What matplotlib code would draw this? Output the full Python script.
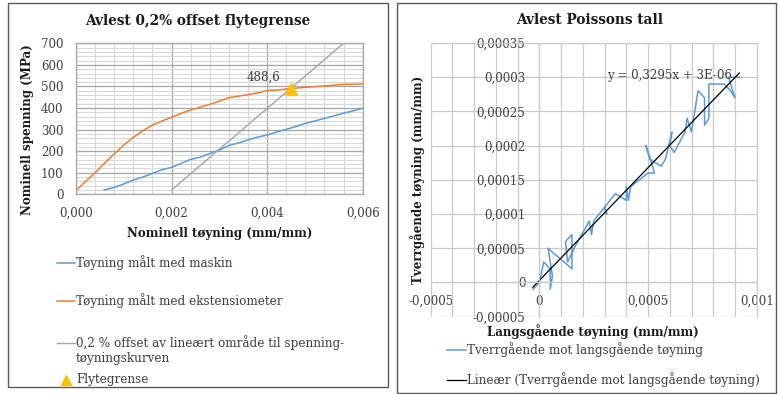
import matplotlib
matplotlib.use("Agg")
import matplotlib.pyplot as plt
from matplotlib.lines import Line2D
from matplotlib.patches import Rectangle
from matplotlib.ticker import MultipleLocator, FuncFormatter

# --- left chart data: stress-strain ---
ext_strain = [0.0, 0.0002, 0.0004, 0.0006, 0.0008, 0.0010, 0.0012, 0.0014, 0.0016, 0.0018,
              0.0020, 0.0022, 0.0024, 0.0026, 0.0028, 0.0030, 0.0032, 0.0034, 0.0036, 0.0038,
              0.0040, 0.0042, 0.0044, 0.0046, 0.0048, 0.0050, 0.0052, 0.0054, 0.0056, 0.0058, 0.0060]
ext_stress = [17, 60, 100, 145, 187, 228, 264, 295, 321, 340,
              357, 375, 391, 404, 417, 432, 448, 455, 462, 470,
              481, 483, 488, 492, 496, 499, 502, 506, 510, 510, 512]

mach_strain = [0.00059, 0.0008, 0.0010, 0.0012, 0.0014, 0.0016, 0.0018, 0.0020, 0.0022, 0.0024,
               0.0026, 0.0028, 0.0030, 0.0032, 0.0034, 0.0036, 0.0038, 0.0040, 0.0042, 0.0044,
               0.0046, 0.0048, 0.0050, 0.0052, 0.0054, 0.0056, 0.0058, 0.0060]
mach_stress = [20, 32, 48, 66, 80, 97, 114, 125, 143, 162,
               172, 189, 205, 226, 238, 252, 265, 275, 289, 301,
               314, 329, 340, 352, 364, 376, 387, 399]

offset_strain = [0.002, 0.0056]
offset_stress = [20, 700]

yield_strain = [0.0045]
yield_stress = [488.6]
yield_label = "488,6"

# --- right chart data: transverse vs longitudinal strain ---
long_strain = [-0.00003, 0.0, 0.00002, 0.00005, 0.00005, 0.00006, 0.00004, 0.00015, 0.00015,
               0.00012, 0.00013, 0.00016, 0.00023, 0.00024, 0.00025, 0.0003, 0.00031, 0.0003,
               0.00035, 0.0004, 0.0004, 0.00041, 0.00042, 0.0005, 0.00053, 0.00049, 0.00051,
               0.00056, 0.00058, 0.00061, 0.0006, 0.00062, 0.00067, 0.00068, 0.0007, 0.00073,
               0.00076, 0.00076, 0.00078, 0.00078, 0.00085, 0.00088, 0.0009, 0.00087, 0.00092]
trans_strain = [-0.00001, 0.0, 0.00003, 0.00002, -0.00001, 0.00001, 0.00005, 0.00002, 0.00007,
                0.00006, 0.00003, 0.00005, 0.00009, 0.00007, 0.00009, 0.00011, 0.0001, 0.00011,
                0.00013, 0.00012, 0.00014, 0.00012, 0.00014, 0.00016, 0.00016, 0.0002, 0.00018,
                0.00017, 0.00018, 0.00022, 0.0002, 0.00019, 0.00022, 0.00024, 0.00022, 0.00028,
                0.00027, 0.00023, 0.00024, 0.00029, 0.00029, 0.00028, 0.00027, 0.0003, 0.0003]
trend_slope = 0.3295
trend_intercept = 3e-6
trend_label = "y = 0,3295x + 3E-06"

plt.rcParams['font.family'] = ['DejaVu Serif']
TXT = '#404040'
GRID = '#CACACA'
LBL = 8.6   # axis title size
LEG = 8.65  # legend size

fig = plt.figure(figsize=(7.78, 3.94), dpi=100)

W, H = 778.0, 394.0
def fx(px): return px / W
def fy(py): return 1 - py / H

# panel frames
fig.add_artist(Rectangle((fx(8), fy(387)), fx(380), (387 - 3) / H, fill=False,
                         edgecolor='#595959', lw=1.0, transform=fig.transFigure))
fig.add_artist(Rectangle((fx(397), fy(393)), fx(379), (393 - 3) / H, fill=False,
                         edgecolor='#595959', lw=1.0, transform=fig.transFigure))

def comma(fmt):
    return FuncFormatter(lambda v, p: (fmt % v).replace('.', ','))

# ---------- left chart ----------
ax1 = fig.add_axes([fx(76), fy(194.3), fx(362.7 - 76), (194.3 - 43.3) / H])
ax1.plot(mach_strain, mach_stress, color='#5B9BD5', lw=1.1)
ax1.plot(ext_strain, ext_stress, color='#ED7D31', lw=1.1)
ax1.plot(offset_strain, offset_stress, color='#A5A5A5', lw=1.0)
ax1.plot(yield_strain, yield_stress, marker='^', color='#FFC000', ms=8, ls='none')
ax1.annotate(yield_label, (yield_strain[0], yield_stress[0]), xytext=(-8, 4),
             textcoords='offset points', ha='right', va='bottom', fontsize=8.6, color=TXT)
ax1.set_xlim(0, 0.006)
ax1.set_ylim(0, 700)
ax1.xaxis.set_major_locator(MultipleLocator(0.002))
ax1.xaxis.set_minor_locator(MultipleLocator(0.0004))
ax1.yaxis.set_major_locator(MultipleLocator(100))
ax1.yaxis.set_minor_locator(MultipleLocator(20))
ax1.xaxis.set_major_formatter(comma('%.3f'))
ax1.grid(which='major', color='#A6A6A6', lw=0.9)
ax1.grid(which='minor', color='#D9D9D9', lw=0.8)
ax1.set_axisbelow(True)
ax1.tick_params(which='both', length=0, labelsize=8.6, labelcolor=TXT)
ax1.tick_params(axis='y', pad=9)
ax1.tick_params(axis='x', pad=9)
for s in ax1.spines.values():
    s.set_color('#A6A6A6')
    s.set_linewidth(0.9)
fig.text(fx(198), fy(21), "Avlest 0,2% offset flytegrense", fontsize=9.8,
         fontweight='bold', color='#1a1a1a', ha='center', va='center')
fig.text(fx(28), fy(130), "Nominell spenning (MPa)", rotation=90, fontsize=LBL,
         fontweight='bold', color='#1a1a1a', ha='center', va='center')
fig.text(fx(220), fy(233), "Nominell tøyning (mm/mm)", fontsize=LBL,
         fontweight='bold', color='#1a1a1a', ha='center', va='center')

# left legend (manual, Excel-like)
leg1 = [
    (Line2D([fx(57), fx(75)], [fy(262.7)] * 2, color='#5B9BD5', lw=1.1), 262.7, "Tøyning målt med maskin"),
    (Line2D([fx(57), fx(75)], [fy(301)] * 2, color='#ED7D31', lw=1.1), 301, "Tøyning målt med ekstensiometer"),
    (Line2D([fx(57), fx(75)], [fy(343)] * 2, color='#A5A5A5', lw=1.0), 350,
     "0,2 % offset av lineært område til spenning-\ntøyningskurven"),
    (Line2D([fx(66)], [fy(379.5)], marker='^', color='#FFC000', ms=7, ls='none'), 379.5, "Flytegrense"),
]
for art, y, txt in leg1:
    fig.add_artist(art)
    fig.text(fx(76), fy(y), txt, fontsize=LEG, color=TXT, va='center', ha='left', linespacing=1.2)

# ---------- right chart ----------
ax2 = fig.add_axes([fx(430.7), fy(316.7), fx(756.7 - 430.7), (316.7 - 43) / H])
ax2.plot(long_strain, trans_strain, color='#5B9BD5', lw=1.1)
tx = [min(long_strain), max(long_strain)]
ax2.plot(tx, [trend_slope * v + trend_intercept for v in tx], color='black', lw=0.9)
ax2.text(0.000313, 0.000302, trend_label, fontsize=8.6, color=TXT, va='center', ha='left')
ax2.set_xlim(-0.0005, 0.001)
ax2.set_ylim(-0.00005, 0.00035)
ax2.xaxis.set_major_locator(MultipleLocator(0.0005))
ax2.xaxis.set_minor_locator(MultipleLocator(0.0001))
ax2.yaxis.set_major_locator(MultipleLocator(0.00005))
ax2.xaxis.set_major_formatter(FuncFormatter(lambda v, p: ('%g' % round(v, 6)).replace('.', ',')))
ax2.yaxis.set_major_formatter(FuncFormatter(lambda v, p: ('%.5f' % v).rstrip('0').rstrip('.').replace('.', ',') if abs(v) > 1e-12 else '0'))
ax2.grid(which='both', color=GRID, lw=0.9)
ax2.set_axisbelow(True)
ax2.spines['left'].set_position(('data', 0))
ax2.spines['bottom'].set_position(('data', 0))
for s in ax2.spines.values():
    s.set_color(GRID)
    s.set_linewidth(0.9)
ax2.tick_params(which='both', length=0, labelsize=8.6, labelcolor=TXT)
ax2.tick_params(axis='y', pad=10)
ax2.tick_params(axis='x', pad=9)
fig.text(fx(590), fy(20), "Avlest Poissons tall", fontsize=9.8,
         fontweight='bold', color='#1a1a1a', ha='center', va='center')
fig.text(fx(418), fy(180), "Tverrgående tøyning (mm/mm)", rotation=90, fontsize=LBL,
         fontweight='bold', color='#1a1a1a', ha='center', va='center')
fig.text(fx(592.5), fy(332), "Langsgående tøyning (mm/mm)", fontsize=LBL,
         fontweight='bold', color='#1a1a1a', ha='center', va='center')

leg2 = [
    (Line2D([fx(447), fx(466)], [fy(350)] * 2, color='#5B9BD5', lw=1.1), 350,
     "Tverrgående mot langsgående tøyning"),
    (Line2D([fx(447), fx(466)], [fy(380)] * 2, color='black', lw=0.9), 380,
     "Lineær (Tverrgående mot langsgående tøyning)"),
]
for art, y, txt in leg2:
    fig.add_artist(art)
    fig.text(fx(467), fy(y), txt, fontsize=LEG, color=TXT, va='center', ha='left')

fig.savefig("out.png", dpi=100)
